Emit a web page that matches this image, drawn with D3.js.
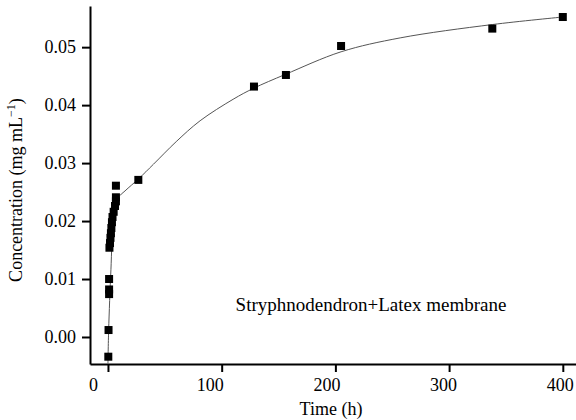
<!DOCTYPE html>
<html>
<head>
<meta charset="utf-8">
<script src="https://cdn.jsdelivr.net/npm/d3@7"></script>
<style>
  body { margin: 0; background: #fff; }
  svg text { font-family: "Liberation Serif", "Times New Roman", serif; fill: #000; }
</style>
</head>
<body>
<svg id="chart" width="576" height="420"></svg>
<script>
// measured points (time in h, concentration in mg/mL)
var timeValues = [0.3, 0.5, 1.0, 1.0, 1.0, 1.3, 1.8, 2.2, 2.6, 3.0, 3.5, 4.0, 5.0, 6.2, 7.0, 7.0, 7.0, 26.7, 128.4, 156.5, 205, 338, 400];
var concValues = [-0.0034, 0.0012, 0.0074, 0.0082, 0.0100, 0.0154, 0.0162, 0.0171, 0.0179, 0.0188, 0.0198, 0.0207, 0.0216, 0.0226, 0.0234, 0.0241, 0.0261, 0.0271, 0.0432, 0.0452, 0.0502, 0.0532, 0.0552];

// fitted curve
var fitTime = [0, 0.6, 2.6, 4.8, 9, 15, 27, 40, 60, 81, 110, 128, 156, 205, 257, 338, 400];
var fitConc = [-0.0046, 0.0012, 0.0116, 0.0200, 0.0240, 0.0252, 0.0273, 0.0298, 0.0337, 0.0373, 0.0410, 0.0429, 0.0453, 0.0492, 0.0516, 0.0539, 0.0552];

var xTicks = [0, 100, 200, 300, 400];
var yTicks = [0.00, 0.01, 0.02, 0.03, 0.04, 0.05];

var serif = "'Liberation Serif', 'Times New Roman', serif";

var svg = d3.select("#chart");

var x = d3.scaleLinear().domain([-15.8, 411.6]).range([90, 576]);
var y = d3.scaleLinear().domain([-0.00466, 0.0571]).range([364, 6]);

// x axis
var gx = svg.append("g")
  .attr("transform", "translate(0,364)")
  .call(d3.axisBottom(x).tickValues(xTicks).tickSize(8).tickSizeOuter(0).tickFormat(d3.format("d")));
gx.attr("font-family", null).style("font-family", serif);
gx.select(".domain").attr("stroke", "#000").attr("stroke-width", 2);
gx.selectAll(".tick line").attr("stroke", "#000").attr("stroke-width", 2);
gx.selectAll(".tick text")
  .style("font-family", serif)
  .attr("font-size", 18)
  .attr("y", 14)
  .attr("dx", function(d, i) { return -15 + 3 * i; });

// y axis
var gy = svg.append("g")
  .attr("transform", "translate(90,0)")
  .call(d3.axisLeft(y).tickValues(yTicks).tickSize(8).tickSizeOuter(0).tickFormat(d3.format(".2f")));
gy.attr("font-family", null).style("font-family", serif);
gy.select(".domain").attr("stroke", "#000").attr("stroke-width", 2);
gy.selectAll(".tick line").attr("stroke", "#000").attr("stroke-width", 2);
gy.selectAll(".tick text").style("font-family", serif).attr("font-size", 18).attr("x", -14);

// fit line
var fit = fitTime.map(function(t, i) { return [t, fitConc[i]]; });
svg.append("path")
  .datum(fit)
  .attr("fill", "none")
  .attr("stroke", "#555")
  .attr("stroke-width", 1)
  .attr("d", d3.line()
    .x(function(d) { return x(d[0]); })
    .y(function(d) { return y(d[1]); })
    .curve(d3.curveCatmullRom.alpha(0.5)));

// markers
var pts = timeValues.map(function(t, i) { return { t: t, c: concValues[i] }; });
svg.append("g").selectAll("rect")
  .data(pts)
  .join("rect")
  .attr("x", function(d) { return x(d.t) - 4; })
  .attr("y", function(d) { return y(d.c) - 4; })
  .attr("width", 8)
  .attr("height", 8)
  .attr("fill", "#000");

// titles
svg.append("text")
  .attr("x", 331)
  .attr("y", 415)
  .attr("text-anchor", "middle")
  .attr("font-size", 18)
  .text("Time (h)");

var yl = svg.append("text")
  .attr("transform", "translate(22,190) rotate(-90)")
  .attr("text-anchor", "middle")
  .attr("font-size", 18);
yl.append("tspan").text("Concentration (mg mL");
yl.append("tspan").attr("font-size", 12).attr("dy", -7).text("\u22121");
yl.append("tspan").attr("dy", 7).text(")");

svg.append("text")
  .attr("x", 371)
  .attr("y", 311)
  .attr("text-anchor", "middle")
  .attr("font-size", 19)
  .text("Stryphnodendron+Latex membrane");
</script>
</body>
</html>
